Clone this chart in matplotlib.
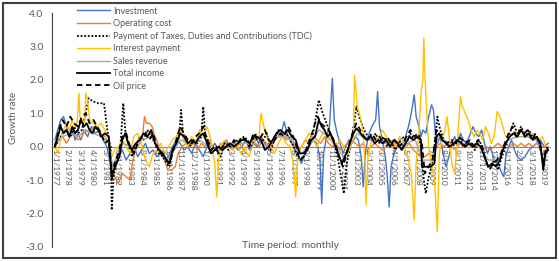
import matplotlib
matplotlib.use('Agg')
import matplotlib.pyplot as plt
from matplotlib.patches import Rectangle

plt.rcParams['font.family'] = ['Lato', 'DejaVu Sans']

# month index 0 = Jan 1977
inv_m = [0, 3, 6, 9, 12, 15, 18, 21, 24, 27, 30, 34, 38, 42, 46, 50, 54, 57, 60, 63, 66, 70, 74, 78, 82, 86, 90, 94,
         98, 102, 106, 110, 114, 118, 122, 126, 130, 134, 138, 142, 146, 150, 154, 158, 162, 166, 170, 174, 178, 182,
         186, 190, 194, 198, 202, 206, 210, 214, 218, 222, 226, 230, 234, 238, 241, 244, 248, 252, 256, 260, 264, 268,
         272, 275, 277, 279, 282, 285, 288, 290, 293, 296, 299, 302, 305, 308, 312, 315, 318, 320, 322, 325, 329, 333,
         335, 337, 340, 343, 345, 347, 349, 352, 355, 358, 361, 364, 367, 370, 373, 375, 378, 380, 382, 385, 388, 391,
         393, 395, 397, 400, 403, 406, 409, 412, 415, 418, 421, 424, 427, 430, 434, 437, 440, 443, 446, 449, 452, 456,
         460, 464, 466, 468, 471, 474, 477, 480, 484, 488, 492, 496, 500, 504, 508, 512]
inv_v = [0.2, 0.5, 0.8, 0.9, 0.6, 0.3, 0.5, 0.2, 0.4, 0.2, 0.5, 0.3, 0.6, 0.4, 0.5, 0.2, 0.0, -0.4, -0.8, -0.6, -0.3,
         -0.1, -0.4, -0.2, 0.0, -0.3, -0.1, 0.1, -0.2, -0.1, -0.3, -0.2, -0.4, -0.3, 0.0, 0.2, 0.1, -0.1, 0.0, -0.2,
         0.1, -0.1, -0.3, 0.0, -0.1, 0.1, -0.1, 0.0, 0.2, 0.0, 0.1, -0.1, 0.0, 0.2, -0.1, 0.1, 0.0, 0.3, 0.1, -0.1,
         0.2, 0.4, 0.3, 0.75, 0.4, 0.2, 0.0, -0.3, -0.5, -0.2, 0.0, 0.2, 0.1, -0.3, -1.7, -0.2, 0.3, 0.6, 2.05, 0.8,
         0.4, 0.1, -0.2, 0.0, 0.2, 0.1, 0.3, 0.2, -0.3, -1.2, -0.3, 0.3, 0.6, 0.8, 1.65, 0.6, 0.2, -0.3, -0.9, -1.8,
         -0.6, -0.2, 0.0, 0.2, 0.0, 0.3, 0.6, 1.0, 1.55, 0.9, 0.6, 0.3, 0.5, 0.4, 0.9, 1.25, 1.1, 0.4, 0.1, 0.3, -0.2,
         -0.6, -0.3, 0.1, 0.3, 0.0, 0.4, 0.2, 0.1, 0.3, 0.6, 0.4, 0.3, 0.5, 0.1, -0.2, 0.0, -0.4, -0.5, -0.8, -0.9,
         -0.3, 0.0, 0.2, -0.1, -0.3, -0.4, -0.3, -0.1, 0.0, 0.1, 0.2, 0.0, 0.1]

opc_m = [0, 4, 8, 12, 16, 20, 24, 28, 32, 36, 40, 44, 48, 52, 56, 59, 62, 66, 70, 74, 78, 81, 84, 88, 91, 93, 95, 98,
         101, 104, 107, 110, 114, 117, 121, 125, 128, 132, 136, 140, 144, 148, 152, 156, 160, 164, 168, 172, 176, 180,
         184, 188, 192, 196, 200, 204, 208, 212, 216, 220, 224, 228, 232, 236, 240, 244, 248, 252, 256, 260, 264, 268,
         272, 276, 280, 284, 288, 292, 296, 300, 304, 308, 312, 316, 320, 324, 328, 332, 336, 340, 344, 348, 352, 356,
         360, 364, 368, 372, 376, 380, 384, 388, 392, 396, 400, 404, 408, 412, 416, 420, 424, 428, 432, 436, 440, 444,
         448, 452, 456, 460, 464, 468, 472, 476, 480, 484, 488, 492, 496, 500, 504, 508, 512]
opc_v = [0.0, 0.2, 0.3, 0.1, 0.3, 0.4, 0.2, 0.3, 0.5, 0.4, 0.6, 0.5, 0.4, 0.3, 0.1, -0.5, -0.9, -1.1, -0.8, -0.9, -1.0,
         -0.4, -0.1, 0.1, 0.3, 0.9, 0.7, 0.7, 0.6, 0.3, 0.1, -0.2, -0.4, -0.7, -0.7, -0.6, -0.2, 0.0, 0.1, 0.0, 0.1,
         -0.1, 0.1, 0.0, 0.2, 0.0, -0.1, 0.1, 0.0, 0.1, -0.1, 0.0, 0.1, -0.1, 0.0, 0.2, 0.1, 0.0, 0.2, 0.1, -0.1, 0.2,
         0.3, 0.4, 0.2, 0.3, 0.1, -0.1, 0.0, 0.2, 0.1, 0.3, 0.2, 0.1, 0.3, 0.1, 0.0, 0.1, -0.1, 0.0, 0.1, 0.2, 0.1, 0.0,
         0.1, -0.1, 0.0, 0.1, 0.0, -0.1, 0.0, 0.1, 0.0, 0.1, -0.1, 0.0, 0.1, -0.1, -0.2, -0.3, -0.3, -0.2, -0.3, 0.0,
         0.1, 0.0, 0.1, 0.0, -0.1, 0.1, 0.0, 0.1, 0.0, 0.1, 0.0, -0.1, 0.0, -0.1, 0.0, 0.1, 0.0, 0.1, 0.0, 0.1, 0.0,
         0.1, 0.0, 0.1, 0.0, 0.1, 0.0, 0.0, 0.0]

tdc_m = [0, 4, 8, 12, 16, 20, 24, 28, 32, 35, 40, 45, 51, 54, 56, 58, 59, 61, 64, 68, 71, 73, 76, 80, 84, 88, 92, 96,
         100, 104, 108, 112, 116, 119, 122, 126, 129, 131, 133, 136, 140, 144, 148, 152, 154, 156, 160, 164, 168, 172,
         176, 180, 184, 188, 192, 196, 200, 204, 208, 212, 216, 220, 224, 228, 232, 236, 240, 244, 248, 252, 256, 260,
         264, 268, 271, 274, 278, 282, 286, 290, 294, 297, 300, 303, 306, 310, 313, 317, 321, 325, 329, 333, 337, 341,
         345, 349, 353, 357, 361, 365, 369, 373, 377, 380, 383, 385, 388, 391, 394, 397, 400, 404, 408, 412, 416, 420,
         424, 428, 432, 436, 440, 444, 448, 452, 456, 460, 464, 468, 472, 476, 480, 484, 488, 492, 496, 500, 504, 507,
         510, 512]
tdc_v = [0.0, 0.2, 0.4, 0.5, 0.3, 0.6, 0.4, 0.5, 1.0, 1.45, 1.35, 1.3, 1.3, 0.6, 0.2, 0.0, -1.9, -0.9, -0.4, 0.0, 1.3,
         0.5, 0.1, -0.3, 0.0, 0.3, 0.2, 0.5, 0.3, 0.1, -0.2, -0.3, -0.5, -0.6, -0.2, 0.1, 0.3, 1.1, 0.4, 0.2, 0.0, 0.2,
         0.1, 0.3, 1.2, 0.4, 0.1, -0.2, 0.0, -0.3, 0.1, -0.1, 0.0, 0.2, 0.1, 0.3, 0.2, 0.0, 0.4, 0.1, 0.2, 0.4, -0.1,
         0.2, 0.5, 0.3, 0.4, 0.2, 0.0, -0.3, -0.4, -0.2, 0.2, 0.4, 0.9, 1.4, 1.0, 0.7, 0.4, 0.1, -0.4, -0.9, -1.4, -0.5,
         -0.1, 0.6, 1.2, 0.8, 0.5, 0.3, 0.2, 0.4, 0.1, 0.3, 0.0, 0.2, -0.1, 0.1, 0.3, 0.1, 0.4, 0.2, 0.3, 0.0, -1.0,
         -1.4, -0.9, -0.6, 0.0, 0.9, 0.5, 0.2, 0.0, 0.2, 0.1, 0.3, 0.0, 0.2, 0.1, -0.1, 0.2, 0.0, -0.5, -0.6, -0.4,
         -0.7, -0.3, 0.0, 0.4, 0.7, 0.4, 0.6, 0.3, 0.5, 0.3, 0.2, 0.0, -0.6, -0.1, 0.0]

int_m = [0, 3, 6, 9, 12, 15, 18, 21, 23, 25, 26, 28, 31, 32, 34, 36, 40, 44, 48, 52, 56, 59, 62, 66, 70, 74, 78, 82,
         86, 90, 94, 98, 102, 106, 110, 114, 118, 122, 126, 130, 134, 138, 142, 146, 150, 154, 158, 162, 166, 168, 170,
         173, 177, 181, 185, 189, 193, 197, 201, 205, 209, 212, 214, 217, 220, 224, 228, 232, 236, 240, 244, 247, 250,
         252, 256, 260, 264, 268, 272, 276, 280, 284, 288, 292, 296, 300, 304, 308, 310, 311, 314, 317, 320, 322, 323,
         325, 328, 332, 336, 340, 344, 347, 350, 354, 358, 362, 366, 370, 373, 375, 378, 380, 382, 383, 384, 386, 388,
         391, 394, 397, 399, 402, 405, 407, 409, 412, 415, 418, 421, 423, 426, 429, 432, 435, 438, 441, 444, 447, 450,
         453, 456, 459, 462, 465, 468, 472, 478, 484, 490, 496, 502, 506, 510, 512]
int_v = [0.0, -0.2, 0.2, 0.5, 0.7, 0.5, 0.8, 0.6, 0.7, 1.6, 0.9, 0.8, 0.7, 1.6, 1.4, 0.8, 0.7, 0.6, 0.7, 0.5, 0.2,
         -0.3, -0.1, 0.0, 0.2, 0.0, -0.2, 0.3, 0.4, 0.1, -0.4, -0.6, -0.2, -0.1, 0.1, -0.2, 0.0, 0.2, 0.3, 0.5, 0.2,
         0.0, 0.3, 0.1, 0.5, 0.3, 0.6, 0.2, -0.5, -1.5, -0.4, 0.1, 0.2, 0.0, -0.1, 0.1, -0.2, 0.0, -0.3, 0.0, 0.2, 0.3,
         1.0, 0.6, 0.3, 0.0, -0.2, 0.1, 0.3, 0.1, 0.0, -0.4, -1.5, -0.3, 0.0, 0.2, 0.4, 0.2, 0.0, 0.3, 0.5, 0.2, 0.3,
         0.0, 0.2, 0.0, -0.2, 0.1, 0.3, 2.15, 1.2, 0.9, 0.4, -0.5, -1.75, -0.3, 0.1, 0.3, 0.2, 0.5, 0.3, 0.1, 0.2, 0.0,
         0.3, 0.1, -0.3, -0.8, -2.2, -0.5, 0.5, 1.6, 2.0, 3.25, 2.2, 1.0, 0.0, -0.5, -1.0, -2.55, -0.2, 0.2, 0.5, 0.9,
         0.4, -0.5, -0.8, 0.2, 1.5, 1.2, 1.0, 0.8, 0.5, 0.3, 0.5, 0.4, 0.2, 0.6, 0.4, 0.1, 0.3, 1.05, 0.9, 0.6, 0.3,
         0.3, 0.4, 0.5, 0.3, 0.4, 0.2, 0.3, 0.0, 0.0]

sal_m = [0, 8, 16, 24, 32, 40, 48, 56, 60, 64, 70, 80, 90, 100, 110, 120, 130, 140, 150, 160, 170, 180, 190, 200, 210,
         220, 230, 240, 250, 256, 266, 274, 284, 294, 300, 310, 314, 324, 334, 344, 354, 364, 374, 382, 392, 398, 410,
         420, 430, 440, 450, 460, 470, 480, 490, 500, 507, 512]
sal_v = [0.1, 0.3, 0.4, 0.3, 0.5, 0.4, 0.3, 0.1, -0.6, -0.3, 0.1, 0.0, 0.2, 0.3, -0.1, -0.3, 0.2, 0.1, 0.2, 0.0, -0.1,
         0.0, 0.1, 0.1, 0.2, 0.0, 0.3, 0.3, 0.1, -0.2, 0.1, 0.5, 0.3, -0.1, -0.3, 0.2, 0.4, 0.2, 0.2, 0.1, 0.1, 0.1,
         0.2, -0.4, -0.4, 0.3, 0.1, 0.1, 0.1, 0.0, -0.4, -0.4, 0.2, 0.3, 0.3, 0.2, -0.4, 0.0]

tot_m = [0, 3, 6, 9, 12, 15, 18, 21, 24, 27, 30, 33, 36, 39, 42, 45, 48, 52, 56, 59, 61, 64, 67, 70, 73, 76, 80, 84, 88,
         92, 96, 100, 104, 108, 112, 116, 119, 122, 126, 130, 134, 138, 142, 146, 150, 154, 158, 162, 166, 170, 174,
         178, 182, 186, 190, 194, 198, 202, 206, 210, 214, 218, 222, 226, 230, 234, 238, 242, 246, 250, 254, 258, 262,
         266, 270, 274, 277, 280, 283, 286, 290, 294, 298, 301, 304, 307, 310, 313, 316, 320, 324, 328, 332, 336, 340,
         344, 348, 352, 356, 360, 364, 368, 372, 376, 380, 381, 386, 390, 394, 396, 399, 402, 406, 410, 414, 418, 422,
         426, 430, 434, 438, 442, 446, 450, 454, 458, 462, 465, 468, 472, 476, 480, 484, 488, 492, 496, 500, 504, 507,
         509, 512]
tot_v = [0.0, 0.3, 0.6, 0.4, 0.5, 0.3, 0.6, 0.4, 0.5, 0.8, 0.6, 0.7, 0.5, 0.4, 0.6, 0.5, 0.3, 0.4, 0.3, -1.0, -0.7,
         -0.5, -0.3, 0.2, 0.4, 0.1, -0.1, 0.1, 0.2, 0.4, 0.3, 0.5, 0.1, -0.1, -0.2, -0.4, -0.5, -0.1, 0.1, 0.4, 0.3,
         0.1, 0.2, 0.1, 0.3, 0.4, 0.1, -0.2, -0.1, 0.0, -0.1, 0.0, 0.1, 0.0, 0.1, 0.2, 0.2, 0.1, 0.3, 0.3, 0.2, -0.1,
         0.0, 0.2, 0.4, 0.5, 0.4, 0.5, 0.3, 0.2, -0.2, -0.2, -0.1, 0.2, 0.3, 0.8, 0.6, 0.5, 0.3, 0.4, 0.1, -0.2, -0.5,
         -0.3, -0.1, 0.2, 0.4, 0.55, 0.45, 0.3, 0.2, 0.3, 0.1, 0.2, 0.1, 0.2, 0.0, 0.2, 0.1, -0.1, 0.1, 0.3, 0.2, 0.3,
         0.2, -0.6, -0.6, -0.6, -0.5, 0.3, 0.4, 0.2, 0.1, 0.0, 0.1, 0.2, 0.1, 0.0, 0.1, 0.0, 0.1, 0.0, -0.3, -0.6,
         -0.5, -0.6, -0.4, -0.1, 0.1, 0.3, 0.4, 0.3, 0.5, 0.3, 0.4, 0.2, 0.3, 0.1, -0.7, -0.2, -0.1]

oil_m = [0, 4, 8, 12, 16, 20, 24, 28, 32, 36, 40, 44, 48, 52, 56, 59, 62, 66, 70, 74, 78, 82, 86, 90, 94, 98, 102, 106,
         110, 114, 118, 122, 126, 130, 134, 138, 142, 146, 150, 154, 158, 162, 166, 170, 174, 178, 182, 186, 190, 194,
         198, 202, 206, 210, 214, 218, 222, 226, 230, 234, 238, 242, 246, 250, 254, 258, 262, 266, 270, 273, 276, 280,
         284, 288, 292, 296, 299, 302, 306, 310, 313, 317, 321, 325, 329, 333, 337, 341, 345, 349, 353, 357, 361, 365,
         369, 373, 377, 381, 384, 388, 392, 396, 399, 403, 407, 411, 415, 419, 423, 427, 431, 435, 439, 443, 447, 451,
         455, 459, 463, 467, 471, 475, 479, 483, 487, 491, 495, 499, 503, 507, 510, 512]
oil_v = [0.0, 0.5, 0.8, 0.6, 0.9, 0.7, 0.6, 0.9, 1.0, 0.7, 0.8, 0.6, 0.4, 0.1, 0.2, -0.8, -0.5, -0.2, 0.3, 0.4, 0.0,
         -0.2, 0.1, 0.3, 0.4, 0.2, 0.4, 0.0, -0.2, -0.3, -0.5, -0.2, 0.2, 0.6, 0.4, 0.2, 0.1, 0.3, 0.4, 0.6, 0.2, -0.1,
         0.0, -0.2, 0.0, 0.1, 0.0, 0.2, 0.1, 0.3, 0.2, 0.0, 0.4, 0.2, 0.3, 0.5, 0.2, 0.1, 0.3, 0.4, 0.3, 0.6, 0.4, 0.1,
         -0.4, -0.3, 0.0, 0.3, 0.7, 0.9, 0.7, 0.6, 0.5, 0.3, 0.0, -0.4, -0.6, -0.3, 0.1, 0.5, 0.7, 0.5, 0.3, 0.2, 0.4,
         0.2, 0.3, 0.1, 0.3, 0.1, 0.2, 0.0, 0.1, 0.3, 0.5, 0.3, 0.4, 0.1, -0.8, -0.6, -0.4, 0.5, 0.4, 0.2, 0.1, 0.2,
         0.0, 0.3, 0.2, 0.1, 0.2, 0.0, 0.2, 0.0, -0.4, -0.7, -0.5, -0.4, -0.2, 0.1, 0.4, 0.6, 0.3, 0.5, 0.4, 0.5, 0.2,
         0.4, 0.1, -0.5, 0.0, -0.1]

tick_months = list(range(0, 508, 13))
tick_labels = ['1/1/1977', '2/1/1978', '3/1/1979', '4/1/1980', '5/1/1981', '6/1/1982', '7/1/1983', '8/1/1984',
               '9/1/1985', '10/1/1986', '11/1/1987', '12/1/1988', '1/1/1990', '2/1/1991', '3/1/1992', '4/1/1993',
               '5/1/1994', '6/1/1995', '7/1/1996', '8/1/1997', '9/1/1998', '10/1/1999', '11/1/2000', '12/1/2001',
               '1/1/2003', '2/1/2004', '3/1/2005', '4/1/2006', '5/1/2007', '6/1/2008', '7/1/2009', '8/1/2010',
               '9/1/2011', '10/1/2012', '11/1/2013', '12/1/2014', '1/1/2016', '2/1/2017', '3/1/2018', '4/1/2019']
y_ticks = [-3, -2, -1, 0, 1, 2, 3, 4]
y_labels = ['-3.0', '-2.0', '-1.0', '0.0', '1.0', '2.0', '3.0', '4.0']

grey = '#595959'

fig = plt.figure(figsize=(5.59, 2.61), dpi=100)
ax = fig.add_axes([0.093, 0.054, 0.891, 0.896])
ax.set_axisbelow(True)

ax.plot(inv_m, inv_v, color='#4472C4', lw=1.0, label='Investment')
ax.plot(opc_m, opc_v, color='#ED7D31', lw=1.0, label='Operating cost')
ax.plot(tdc_m, tdc_v, color='black', lw=1.3, ls=(0, (1, 1)),
        label='Payment of Taxes, Duties and Contributions (TDC)')
ax.plot(int_m, int_v, color='#FFC000', lw=1.0, label='Interest payment')
ax.plot(sal_m, sal_v, color='#A5A5A5', lw=1.0, label='Sales revenue')
ax.plot(tot_m, tot_v, color='black', lw=1.3, label='Total income')
ax.plot(oil_m, oil_v, color='black', lw=1.3, ls=(0, (3, 2)), label='Oil price')

ax.set_xlim(-3, 514)
ax.set_ylim(-3, 4)
ax.spines['top'].set_visible(False)
ax.spines['right'].set_visible(False)
ax.spines['bottom'].set_position(('data', 0))
ax.spines['bottom'].set_color('#868686')
ax.spines['bottom'].set_zorder(0.5)
ax.spines['left'].set_color('#404040')

ax.set_xticks(tick_months)
ax.set_xticklabels(tick_labels, rotation=270, fontsize=6, color=grey)
ax.set_yticks(y_ticks)
ax.set_yticklabels(y_labels, fontsize=7.5, color=grey)
ax.tick_params(axis='x', length=0, pad=2)
ax.tick_params(axis='y', length=0, pad=6)

ax.legend(loc='upper left', bbox_to_anchor=(0.137, 0.975), bbox_transform=fig.transFigure,
          frameon=False, fontsize=6.5, labelcolor=grey, handlelength=3.7, handletextpad=0.3,
          labelspacing=0.38, borderpad=0, borderaxespad=0)

fig.text(0.025, 0.55, 'Growth rate', rotation=90, ha='center', va='center', fontsize=7, color=grey)
fig.text(0.52, 0.06, 'Time period: monthly', ha='center', va='center', fontsize=7.5, color=grey)
fig.patches.append(Rectangle((0.006, 0.012), 0.988, 0.976, transform=fig.transFigure, fill=False,
                             edgecolor='#404040', lw=1.5))

fig.savefig('out.png', dpi=100)
